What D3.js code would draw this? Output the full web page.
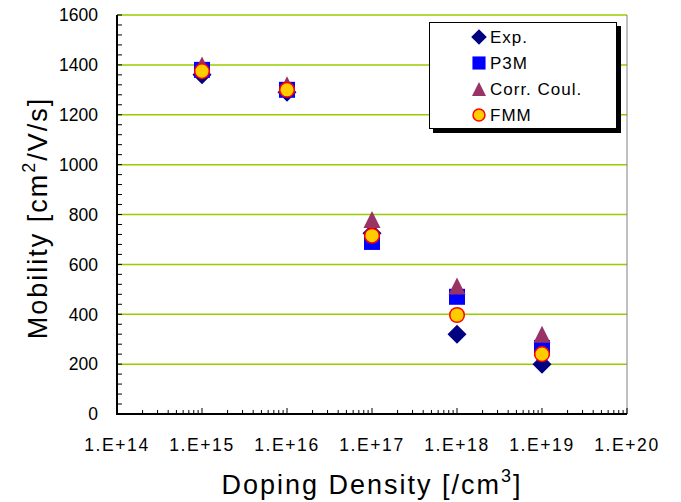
<!DOCTYPE html>
<html>
<head>
<meta charset="utf-8">
<script src="https://cdn.jsdelivr.net/npm/d3@7"></script>
<style>
  body { margin: 0; background: #fff; }
  svg { font-family: "Liberation Sans", Arial, sans-serif; }
</style>
</head>
<body>
<div id="chart"></div>
<script>
// doping densities (cm^-3)
const density = [1e15, 1e16, 1e17, 1e18, 1e19];
const expValues = [1360, 1290, 725, 320, 200];
const p3mValues = [1380, 1300, 690, 470, 265];
const corrValues = [1400, 1320, 780, 513, 320];
const fmmValues = [1375, 1300, 715, 397, 240];
const xTickLabels = ["1.E+14", "1.E+15", "1.E+16", "1.E+17", "1.E+18", "1.E+19", "1.E+20"];
const yTicks = [0, 200, 400, 600, 800, 1000, 1200, 1400, 1600];
const legendNames = ["Exp.", "P3M", "Corr. Coul.", "FMM"];

const width = 681, height = 502;
const margin = { left: 117, right: 54, top: 15, bottom: 88 };
const innerW = width - margin.left - margin.right;
const innerH = height - margin.top - margin.bottom;

const svg = d3.select("#chart").append("svg")
    .attr("width", width)
    .attr("height", height);

const g = svg.append("g")
    .attr("transform", `translate(${margin.left}, ${margin.top})`);

const xScale = d3.scaleLog().domain([1e14, 1e20]).range([0, innerW]);
const yScale = d3.scaleLinear().domain([0, 1600]).range([innerH, 0]);

// gridlines
g.append("g").selectAll("line")
    .data(yTicks.filter(d => d > 0))
    .enter().append("line")
    .attr("x1", 0).attr("x2", innerW)
    .attr("y1", d => yScale(d)).attr("y2", d => yScale(d))
    .attr("stroke", "#99CC00")
    .attr("stroke-width", 1.5);

// right border
g.append("line")
    .attr("x1", innerW).attr("x2", innerW)
    .attr("y1", 0).attr("y2", innerH)
    .attr("stroke", "#808080").attr("stroke-width", 1);

// y axis minor ticks (inside)
const yMinor = d3.range(0, 1601, 40);
g.append("g").selectAll("line")
    .data(yMinor)
    .enter().append("line")
    .attr("x1", 0).attr("x2", 5)
    .attr("y1", d => yScale(d)).attr("y2", d => yScale(d))
    .attr("stroke", "#000").attr("stroke-width", 1);

// x axis log ticks (inside)
const xMinor = [];
for (let e = 14; e < 20; e++) {
    for (let m = 1; m < 10; m++) xMinor.push(m * Math.pow(10, e));
}
xMinor.push(1e20);
g.append("g").selectAll("line")
    .data(xMinor)
    .enter().append("line")
    .attr("x1", d => xScale(d)).attr("x2", d => xScale(d))
    .attr("y1", innerH)
    .attr("y2", d => {
        const lg = Math.log10(d);
        return Math.abs(lg - Math.round(lg)) < 1e-9 ? innerH - 6 : innerH - 4;
    })
    .attr("stroke", "#000").attr("stroke-width", 1);

// axis lines
g.append("line")
    .attr("x1", 0).attr("x2", 0).attr("y1", 0).attr("y2", innerH)
    .attr("stroke", "#000").attr("stroke-width", 2);
g.append("line")
    .attr("x1", -1).attr("x2", innerW).attr("y1", innerH).attr("y2", innerH)
    .attr("stroke", "#000").attr("stroke-width", 2);

// tick labels
g.append("g").selectAll("text")
    .data(yTicks)
    .enter().append("text")
    .attr("x", -19)
    .attr("y", d => yScale(d))
    .attr("dy", "0.36em")
    .attr("text-anchor", "end")
    .attr("font-size", 17.5)
    .text(d => d);

const xTickVals = d3.range(14, 21).map(e => Math.pow(10, e));
g.append("g").selectAll("text")
    .data(xTickVals)
    .enter().append("text")
    .attr("x", d => xScale(d))
    .attr("y", innerH + 37)
    .attr("text-anchor", "middle")
    .attr("font-size", 17.5)
    .attr("letter-spacing", 1.6)
    .text((d, i) => xTickLabels[i]);

// axis titles
const xTitle = svg.append("text")
    .attr("x", margin.left + innerW / 2)
    .attr("y", 494)
    .attr("text-anchor", "middle")
    .attr("font-size", 27)
    .attr("letter-spacing", 2);
xTitle.append("tspan").text("Doping Density [/cm");
xTitle.append("tspan").attr("font-size", 18).attr("dy", -12).text("3");
xTitle.append("tspan").attr("dy", 12).text("]");

const yTitle = svg.append("text")
    .attr("transform", `translate(47, 218) rotate(-90)`)
    .attr("text-anchor", "middle")
    .attr("font-size", 27)
    .attr("letter-spacing", 2);
yTitle.append("tspan").text("Mobility [cm");
yTitle.append("tspan").attr("font-size", 18).attr("dy", -12).text("2");
yTitle.append("tspan").attr("dy", 12).text("/V/s]");

// marker shapes, r = half size
function markerPath(shape, r) {
    if (shape === "diamond") return `M0,${-r}L${r},0L0,${r}L${-r},0Z`;
    if (shape === "square") return `M${-r},${-r}H${r}V${r}H${-r}Z`;
    if (shape === "triangle") return `M0,${-r}L${r},${r}L${-r},${r}Z`;
    return d3.arc()({ innerRadius: 0, outerRadius: r, startAngle: 0, endAngle: 2 * Math.PI });
}

const markerStyles = [
    { shape: "diamond", r: 9.5, fill: "#000080", stroke: "none" },
    { shape: "square", r: 8, fill: "#0000FF", stroke: "none" },
    { shape: "triangle", r: 8.5, fill: "#993366", stroke: "none" },
    { shape: "circle", r: 7.3, fill: "#FFCC00", stroke: "#FF0000" }
];
const seriesValues = [expValues, p3mValues, corrValues, fmmValues];

function drawMarker(sel, style, tx, ty, scale) {
    sel.append("path")
        .attr("d", markerPath(style.shape, style.r * (scale || 1)))
        .attr("fill", style.fill)
        .attr("stroke", style.stroke)
        .attr("stroke-width", 1.5)
        .attr("transform", `translate(${tx}, ${ty})`);
}

seriesValues.forEach((vals, si) => {
    const sg = g.append("g");
    vals.forEach((v, i) => {
        drawMarker(sg, markerStyles[si], xScale(density[i]), yScale(v));
    });
});

// legend
const legend = svg.append("g");
legend.append("rect")
    .attr("x", 433).attr("y", 26).attr("width", 188).attr("height", 107)
    .attr("fill", "#000");
legend.append("rect")
    .attr("x", 429.5).attr("y", 22.5).attr("width", 187).attr("height", 106)
    .attr("fill", "#fff").attr("stroke", "#000").attr("stroke-width", 1);
legendNames.forEach((name, i) => {
    const ly = 37 + i * 26;
    drawMarker(legend, markerStyles[i], 479, ly, 0.82);
    legend.append("text")
        .attr("x", 490).attr("y", ly)
        .attr("dy", "0.36em")
        .attr("font-size", 17)
        .attr("letter-spacing", 1)
        .text(name);
});
</script>
</body>
</html>
